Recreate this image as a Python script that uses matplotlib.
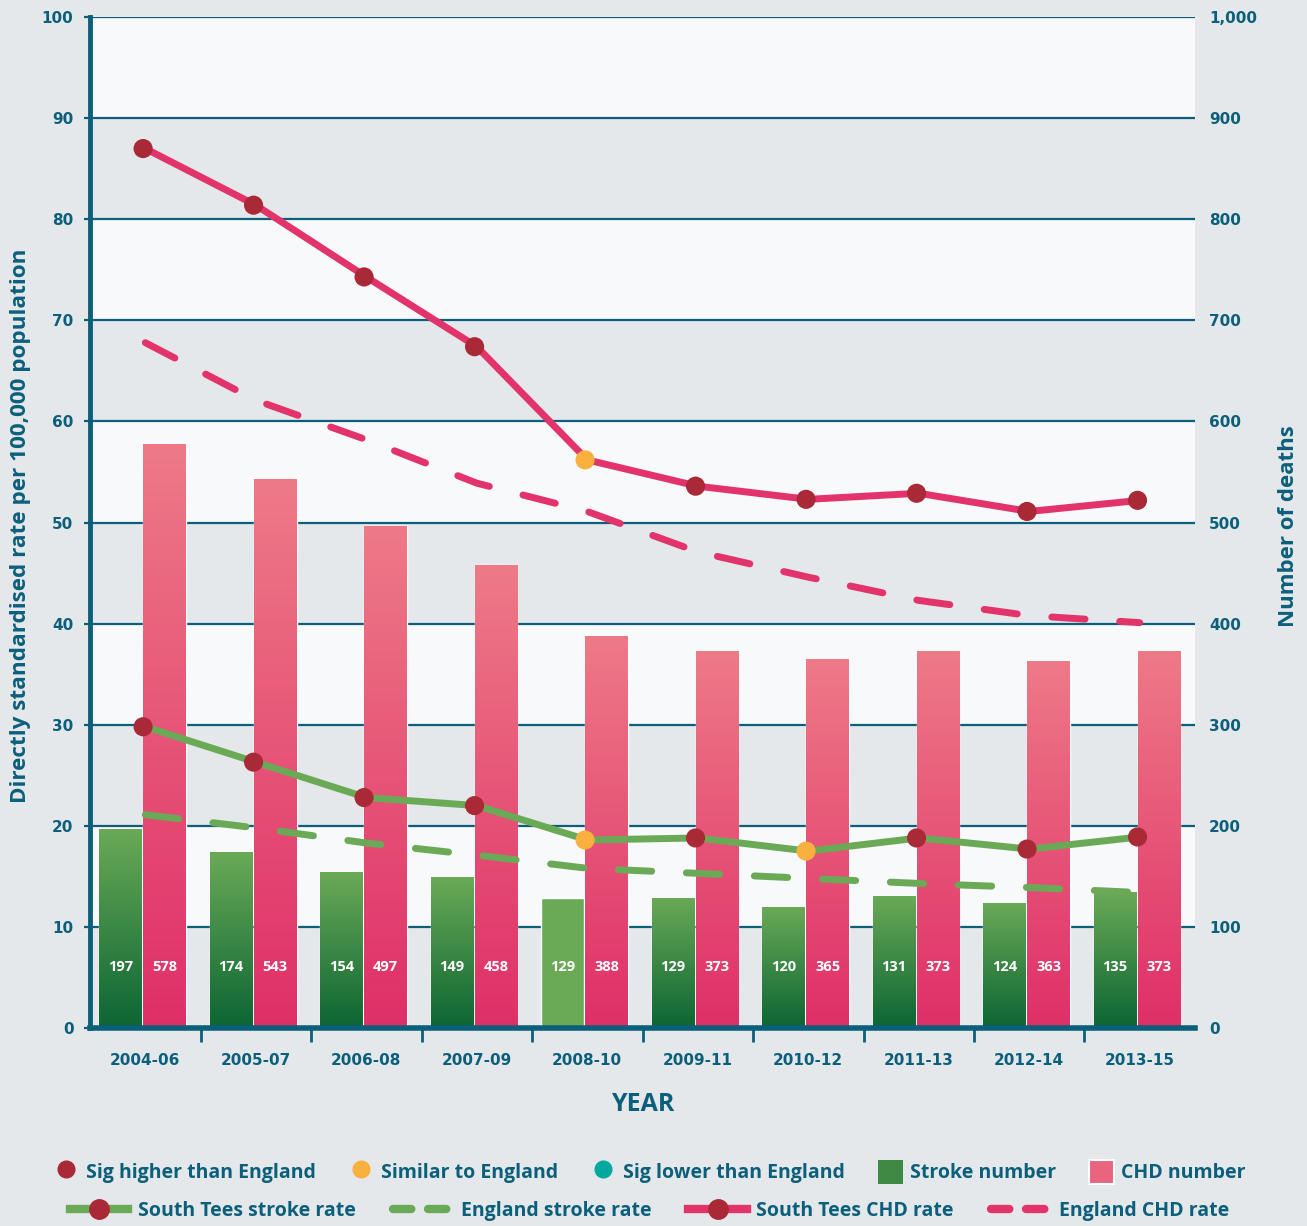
import numpy as np
import matplotlib.pyplot as plt
from matplotlib.lines import Line2D
from matplotlib.patches import Patch
from matplotlib.colors import LinearSegmentedColormap

# ---------------- data ----------------
years = ['2004-06', '2005-07', '2006-08', '2007-09', '2008-10',
         '2009-11', '2010-12', '2011-13', '2012-14', '2013-15']
stroke_number = [197, 174, 154, 149, 129, 129, 120, 131, 124, 135]
chd_number = [578, 543, 497, 458, 388, 373, 365, 373, 363, 373]
st_chd_rate = [87.0, 81.4, 74.3, 67.4, 56.2, 53.6, 52.3, 52.9, 51.1, 52.2]
eng_chd_rate = [67.8, 62.1, 58.2, 53.9, 51.1, 47.1, 44.6, 42.3, 40.8, 40.1]
st_stroke_rate = [29.8, 26.3, 22.8, 22.0, 18.6, 18.8, 17.5, 18.8, 17.7, 18.9]
eng_stroke_rate = [21.1, 19.8, 18.3, 17.1, 15.8, 15.3, 14.8, 14.3, 13.9, 13.4]
# significance vs England: 'H' higher, 'S' similar, 'L' lower
chd_sig = ['H', 'H', 'H', 'H', 'S', 'H', 'H', 'H', 'H', 'H']
stroke_sig = ['H', 'H', 'H', 'H', 'S', 'H', 'S', 'H', 'H', 'H']

# ---------------- style ----------------
TEAL = '#0c5f7b'
PINK = '#e2336b'
GREEN = '#6aaa57'
DARKRED = '#a92937'
ORANGE = '#f9b03f'
SEA = '#00a99d'
BG = '#e4e8ea'
BAND = '#f8f9fa'
sig_col = {'H': DARKRED, 'S': ORANGE, 'L': SEA}

plt.rcParams['font.family'] = ['Open Sans', 'DejaVu Sans']
plt.rcParams['font.weight'] = 'bold'
plt.rcParams['axes.labelweight'] = 'bold'
TICKFONT = dict(family='DejaVu Sans', weight='bold', size=11)

fig = plt.figure(figsize=(13.07, 12.26), dpi=100, facecolor=BG)
ax = fig.add_axes([0.0689, 0.1615, 0.8454, 0.8245])
ax2 = ax.twinx()
ax.set_zorder(ax2.get_zorder() + 1)
ax.patch.set_visible(False)
ax2.set_facecolor(BG)

x = np.arange(len(years))
ax.set_xlim(-0.5, len(years) - 0.5)
ax.set_ylim(0, 100)

# background bands and grid lines (right axis units)
for lo in range(100, 1000, 200):
    ax2.axhspan(lo, lo + 100, color=BAND, zorder=0, lw=0)
for g in range(100, 1001, 100):
    ax2.axhline(g, color=TEAL, lw=1.6, zorder=1)

# gradient bars
cm_stroke = LinearSegmentedColormap.from_list('s', ['#0c6533', GREEN])
cm_chd = LinearSegmentedColormap.from_list('c', ['#df2f68', '#ee7a87'])
grad = np.linspace(0, 1, 256).reshape(-1, 1)
w = 0.385
for i in x:
    for val, off, cmap, solid in [(stroke_number[i], -0.226, cm_stroke, i == 4),
                                  (chd_number[i], 0.176, cm_chd, False)]:
        x0, x1 = i + off - w / 2, i + off + w / 2
        bar = ax2.bar(i + off, val, width=w, color=GREEN if solid else 'none',
                      edgecolor='white', linewidth=1.0, zorder=2)[0]
        if not solid:
            im = ax2.imshow(grad, extent=[x0, x1, 0, val], origin='lower',
                            aspect='auto', cmap=cmap, zorder=2)
            im.set_clip_path(bar)
        ax2.text(i + off, 60, str(val), ha='center', va='center', color='white',
                 fontsize=10.5, fontweight='bold', zorder=3)
ax2.set_xlim(-0.5, len(years) - 0.5)
ax2.set_ylim(0, 1000)

# lines
dash = (4.8, 5.0)
ax.plot(x, eng_chd_rate, color=PINK, lw=5, ls=(0, dash), dash_capstyle='round', zorder=4)
ax.plot(x, eng_stroke_rate, color=GREEN, lw=5, ls=(0, dash), dash_capstyle='round', zorder=4)
ax.plot(x, st_chd_rate, color=PINK, lw=5, solid_capstyle='round', zorder=5)
ax.plot(x, st_stroke_rate, color=GREEN, lw=5, solid_capstyle='round', zorder=5)
ax.scatter(x - 0.02, st_chd_rate, s=190, c=[sig_col[s] for s in chd_sig], zorder=6, lw=0)
ax.scatter(x - 0.02, st_stroke_rate, s=190, c=[sig_col[s] for s in stroke_sig], zorder=6, lw=0)

# axes styling
ax.set_yticks(range(0, 101, 10))
ax2.set_yticks(range(0, 1001, 100))
ax2.set_yticklabels([f'{v:,}' for v in range(0, 1001, 100)])
ax.set_xticks(x)
ax.set_xticklabels(years)
ax.set_xticks(x[:-1] + 0.5, minor=True)
ax.tick_params(axis='x', which='major', length=0, pad=18, labelcolor=TEAL)
ax.tick_params(axis='x', which='minor', length=10, width=2, color=TEAL, direction='out')
ax.tick_params(axis='y', length=4, width=1.6, color=TEAL, labelcolor=TEAL, pad=8)
ax2.tick_params(axis='y', length=0, labelcolor=TEAL, pad=10)
ax2.tick_params(axis='x', bottom=False, labelbottom=False)
for lab in ax.get_xticklabels() + ax.get_yticklabels() + ax2.get_yticklabels():
    lab.set_fontproperties(TICKFONT)

for sp in ['top', 'right']:
    ax.spines[sp].set_visible(False)
for sp in ax2.spines.values():
    sp.set_visible(False)
ax.spines['left'].set_color(TEAL)
ax.spines['left'].set_linewidth(3.5)
ax.spines['bottom'].set_color(TEAL)
ax.spines['bottom'].set_linewidth(4)

ax.set_ylabel('Directly standardised rate per 100,000 population', fontsize=16.2,
              fontweight='bold', color=TEAL)
ax.yaxis.label.set_va('center')
ax.yaxis.set_label_coords(-0.0633, 0.4965)
ax2.set_ylabel('Number of deaths', fontsize=16, fontweight='bold', color=TEAL)
ax2.yaxis.label.set_va('center')
ax2.yaxis.set_label_coords(1.085, 0.4965)
ax.set_xlabel('YEAR', fontsize=18, fontweight='bold', color=TEAL)
ax.xaxis.label.set_va('center')
ax.xaxis.set_label_coords(0.5, -0.076)

# legends
row1 = [Line2D([], [], marker='o', ls='none', color=DARKRED, ms=12),
        Line2D([], [], marker='o', ls='none', color=ORANGE, ms=12),
        Line2D([], [], marker='o', ls='none', color=SEA, ms=12),
        Patch(facecolor='#3e8a45', edgecolor='none'),
        Patch(facecolor='#ea6480', edgecolor='white', lw=1.5)]
labels1 = ['Sig higher than England', 'Similar to England', 'Sig lower than England',
           'Stroke number', 'CHD number']
row2 = [Line2D([], [], color=GREEN, lw=6, marker='o', ms=14, mfc=DARKRED, mec=DARKRED),
        Line2D([], [], color=GREEN, lw=6, ls=(0, (2.2, 2.0)), dash_capstyle='round'),
        Line2D([], [], color=PINK, lw=6, marker='o', ms=14, mfc=DARKRED, mec=DARKRED),
        Line2D([], [], color=PINK, lw=6, ls=(0, (2.2, 2.0)), dash_capstyle='round')]
labels2 = ['South Tees stroke rate', 'England stroke rate', 'South Tees CHD rate',
           'England CHD rate']
leg_kw = dict(frameon=False, labelcolor=TEAL, prop={'size': 14, 'weight': 'bold'},
              borderaxespad=0)
fig.legend(row1, labels1, loc='center', bbox_to_anchor=(0.497, 1 - 1172 / 1226), ncol=5,
           columnspacing=1.7, handlelength=1.3, handleheight=1.6, handletextpad=0.35,
           **leg_kw)
fig.legend(row2, labels2, loc='center', bbox_to_anchor=(0.497, 1 - 1211 / 1226), ncol=4,
           columnspacing=1.9, handlelength=3.0, handletextpad=0.5, **leg_kw)

fig.savefig('out.png', dpi=100, facecolor=BG)
